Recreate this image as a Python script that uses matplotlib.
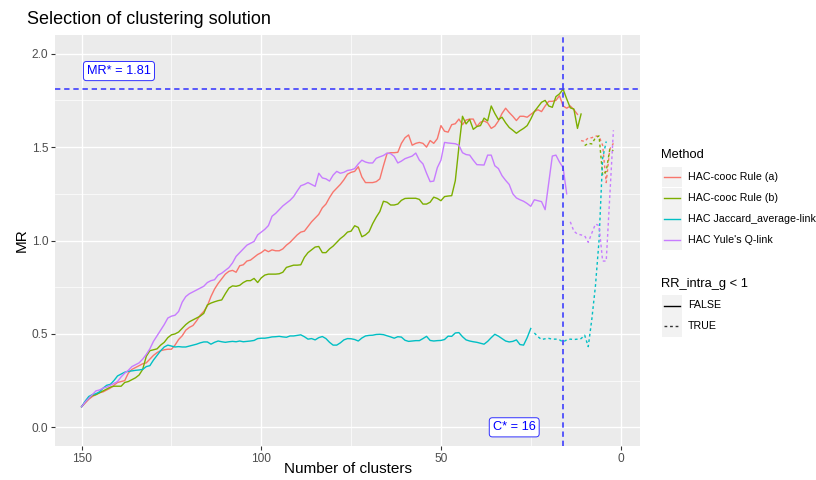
import numpy as np
import matplotlib
matplotlib.use("Agg")
from matplotlib import pyplot as plt
from matplotlib.lines import Line2D
from matplotlib.patches import Rectangle

plt.rcParams["font.family"] = ["Liberation Sans", "DejaVu Sans"]

methods = ["HAC-cooc Rule (a)", "HAC-cooc Rule (b)", "HAC Jaccard_average-link", "HAC Yule's Q-link"]
colors = ["#F8766D", "#7CAE00", "#00BFC4", "#C77CFF"]
rr_labels = ["FALSE", "TRUE"]

# MR per number of clusters, starting at 150 clusters and going down.
# *_false: RR_intra_g < 1 is FALSE, *_true: continues right after it
rule_a_false = [
    0.11, 0.13, 0.15, 0.165, 0.175, 0.185, 0.19, 0.20, 0.21, 0.225,
    0.24, 0.245, 0.25, 0.29, 0.31, 0.32, 0.33, 0.34, 0.345, 0.365,
    0.385, 0.40, 0.41, 0.415, 0.418, 0.418, 0.44, 0.47, 0.49, 0.52,
    0.535, 0.545, 0.57, 0.60, 0.62, 0.65, 0.70, 0.74, 0.77, 0.795,
    0.82, 0.835, 0.84, 0.83, 0.865, 0.87, 0.89, 0.895, 0.91, 0.925,
    0.935, 0.95, 0.94, 0.95, 0.945, 0.945, 0.955, 0.975, 0.99, 1.01,
    1.03, 1.045, 1.05, 1.075, 1.10, 1.12, 1.14, 1.175, 1.195, 1.23,
    1.26, 1.28, 1.30, 1.325, 1.355, 1.365, 1.37, 1.395, 1.34, 1.31,
    1.31, 1.31, 1.315, 1.33, 1.40, 1.465, 1.47, 1.47, 1.472, 1.52,
    1.55, 1.565, 1.51, 1.52, 1.525, 1.52, 1.50, 1.535, 1.52, 1.545,
    1.615, 1.585, 1.58, 1.62, 1.625, 1.65, 1.62, 1.645, 1.65, 1.65,
    1.61, 1.633, 1.64, 1.63, 1.60, 1.612, 1.64, 1.68, 1.708, 1.685,
    1.665, 1.642, 1.665, 1.665, 1.66, 1.675, 1.69, 1.70, 1.69, 1.72,
    1.745, 1.745, 1.75, 1.775, 1.72, 1.708, 1.72, 1.70, 1.675,
]
rule_a_true = [1.535, 1.53, 1.55, 1.55, 1.56, 1.557, 1.51, 1.31, 1.49, 1.52]

rule_b_false = [
    0.11, 0.135, 0.155, 0.17, 0.175, 0.185, 0.195, 0.205, 0.215, 0.22,
    0.22, 0.22, 0.24, 0.245, 0.255, 0.265, 0.28, 0.31, 0.38, 0.41,
    0.415, 0.42, 0.44, 0.455, 0.48, 0.495, 0.50, 0.51, 0.53, 0.55,
    0.565, 0.575, 0.585, 0.595, 0.61, 0.655, 0.665, 0.672, 0.678, 0.682,
    0.715, 0.745, 0.757, 0.755, 0.76, 0.775, 0.785, 0.785, 0.797, 0.775,
    0.80, 0.815, 0.82, 0.82, 0.82, 0.822, 0.83, 0.856, 0.862, 0.868,
    0.868, 0.87, 0.91, 0.935, 0.95, 0.965, 0.968, 0.935, 0.935, 0.955,
    0.97, 0.99, 1.01, 1.025, 1.045, 1.05, 1.079, 1.07, 1.02, 1.03,
    1.047, 1.09, 1.125, 1.155, 1.21, 1.205, 1.19, 1.19, 1.195, 1.215,
    1.225, 1.226, 1.226, 1.226, 1.22, 1.195, 1.195, 1.205, 1.232, 1.225,
    1.213, 1.235, 1.238, 1.24, 1.32, 1.50, 1.665, 1.624, 1.648, 1.595,
    1.61, 1.615, 1.655, 1.64, 1.72, 1.68, 1.647, 1.66, 1.63, 1.605,
    1.59, 1.574, 1.588, 1.60, 1.615, 1.65, 1.69, 1.715, 1.74, 1.75,
    1.72, 1.713, 1.77, 1.785, 1.81, 1.758, 1.71, 1.704, 1.60, 1.677,
]
rule_b_true = [1.508, 1.52, 1.517, 1.55, 1.56, 1.35, 1.37, 1.49, 1.48]

jaccard_false = [
    0.11, 0.14, 0.165, 0.175, 0.18, 0.19, 0.21, 0.225, 0.23, 0.25,
    0.275, 0.285, 0.295, 0.30, 0.302, 0.305, 0.307, 0.31, 0.325, 0.33,
    0.36, 0.385, 0.41, 0.43, 0.44, 0.435, 0.43, 0.432, 0.43, 0.43,
    0.435, 0.44, 0.445, 0.452, 0.457, 0.457, 0.445, 0.455, 0.462, 0.458,
    0.455, 0.458, 0.46, 0.458, 0.462, 0.458, 0.46, 0.462, 0.465, 0.475,
    0.477, 0.477, 0.48, 0.484, 0.485, 0.487, 0.484, 0.482, 0.489, 0.489,
    0.492, 0.495, 0.485, 0.472, 0.475, 0.468, 0.48, 0.486, 0.475, 0.455,
    0.44, 0.44, 0.452, 0.468, 0.475, 0.474, 0.47, 0.462, 0.478, 0.489,
    0.492, 0.493, 0.497, 0.498, 0.496, 0.49, 0.484, 0.477, 0.485, 0.483,
    0.466, 0.46, 0.462, 0.464, 0.464, 0.475, 0.487, 0.465, 0.462, 0.464,
    0.465, 0.47, 0.488, 0.487, 0.505, 0.507, 0.485, 0.468, 0.462, 0.458,
    0.455, 0.45, 0.445, 0.46, 0.48, 0.498, 0.488, 0.475, 0.462, 0.457,
    0.46, 0.468, 0.443, 0.44, 0.48, 0.529,
]
jaccard_true = [0.505, 0.485, 0.47, 0.474, 0.476, 0.472, 0.472, 0.468, 0.457, 0.468,
                0.472, 0.47, 0.472, 0.475, 0.493, 0.432, 0.58, 0.757, 1.0, 1.44, 1.53]

yule_false = [
    0.11, 0.135, 0.155, 0.175, 0.195, 0.20, 0.21, 0.215, 0.225, 0.235,
    0.245, 0.27, 0.29, 0.305, 0.325, 0.335, 0.345, 0.365, 0.39, 0.42,
    0.46, 0.49, 0.52, 0.55, 0.585, 0.595, 0.60, 0.62, 0.67, 0.70,
    0.715, 0.725, 0.735, 0.745, 0.755, 0.775, 0.785, 0.79, 0.815, 0.825,
    0.84, 0.855, 0.88, 0.915, 0.935, 0.955, 0.975, 0.985, 0.995, 1.03,
    1.045, 1.06, 1.08, 1.13, 1.145, 1.165, 1.185, 1.20, 1.215, 1.235,
    1.265, 1.293, 1.30, 1.31, 1.30, 1.29, 1.36, 1.335, 1.33, 1.318,
    1.35, 1.37, 1.36, 1.365, 1.375, 1.378, 1.385, 1.41, 1.43, 1.42,
    1.415, 1.415, 1.44, 1.448, 1.455, 1.468, 1.465, 1.45, 1.415, 1.425,
    1.438, 1.445, 1.452, 1.468, 1.43, 1.41, 1.36, 1.315, 1.318, 1.39,
    1.43, 1.525, 1.522, 1.52, 1.518, 1.51, 1.47, 1.46, 1.457, 1.43,
    1.406, 1.405, 1.404, 1.457, 1.457, 1.40, 1.385, 1.347, 1.322, 1.30,
    1.25, 1.228, 1.218, 1.21, 1.198, 1.183, 1.218, 1.213, 1.208, 1.165,
    1.31, 1.452, 1.457, 1.42, 1.39, 1.25,
]
yule_true = [1.10, 1.05, 1.034, 1.03, 1.025, 0.99, 1.04, 1.088, 1.08, 0.89, 0.89, 1.24, 1.59]

mr_star = 1.81
c_star = 16
max_clusters = 150

series = [
    (rule_a_false, rule_a_true),
    (rule_b_false, rule_b_true),
    (jaccard_false, jaccard_true),
    (yule_false, yule_true),
]

W, H = 816, 480
fig = plt.figure(figsize=(W / 100, H / 100), dpi=100)
ax = fig.add_axes([55 / W, 1 - 446 / H, 585 / W, 411 / H])
ax.set_facecolor("#EBEBEB")
for s in ax.spines.values():
    s.set_visible(False)

LW = 1.0
for (vals_f, vals_t), col in zip(series, colors):
    kf = np.arange(max_clusters, max_clusters - len(vals_f), -1)
    start = max_clusters - len(vals_f)
    kt = np.arange(start, start - len(vals_t), -1)
    ax.plot(kf, vals_f, color=col, lw=LW, solid_joinstyle="round", zorder=3)
    ax.plot(kt, vals_t, color=col, lw=LW, dashes=(2, 2), zorder=3)

ax.axhline(mr_star, color="#3030FF", lw=1.1, dashes=(3.5, 2.5), zorder=4)
ax.axvline(c_star, color="#3030FF", lw=1.1, dashes=(3.5, 2.5), zorder=4)

box = dict(boxstyle="round,pad=0.28,rounding_size=0.25", fc="white", ec="#3030FF", lw=0.7)
ax.text(139.6, mr_star + 0.097, "MR* = %.2f" % mr_star, color="#0000FF", fontsize=9.2,
        ha="center", va="center", bbox=box, zorder=5)
ax.text(c_star + 13.6, 0.0, "C* = %d" % c_star, color="#0000FF", fontsize=9.2,
        ha="center", va="center", bbox=box, zorder=5)

ax.set_xlim(157.4, -5.4)
ax.set_ylim(-0.1, 2.1)
ax.set_xticks([150, 100, 50, 0])
ax.set_xticks([125, 75, 25], minor=True)
ax.set_yticks([0, 0.5, 1.0, 1.5, 2.0])
ax.set_yticklabels(["0.0", "0.5", "1.0", "1.5", "2.0"])
ax.set_yticks([0.25, 0.75, 1.25, 1.75], minor=True)
ax.grid(which="major", color="white", lw=1.0, zorder=0)
ax.grid(which="minor", color="white", lw=0.5, zorder=0)
ax.set_axisbelow(True)
ax.tick_params(which="major", direction="out", length=3, width=0.8, color="#333333",
               labelcolor="#4D4D4D", labelsize=8.6, pad=2)
ax.tick_params(which="minor", length=0)

fig.text(27 / W, 1 - 20 / H, "Selection of clustering solution", fontsize=13, va="center", ha="left")
fig.text(22 / W, 1 - 240 / H, "MR", fontsize=11, rotation=90, va="center", ha="center")
fig.text(347.5 / W, 1 - 469 / H, "Number of clusters", fontsize=11, va="center", ha="center")


def legend_block(title, y_title, y_first, labels, line_styles):
    fig.text(661 / W, 1 - y_title / H, title, fontsize=9.3, va="center", ha="left")
    for i, (lab, (col, dash)) in enumerate(zip(labels, line_styles)):
        yc = y_first + 20.9 * i
        fig.add_artist(Rectangle((662 / W, 1 - (yc + 10.4) / H), 20 / W, 20.8 / H,
                                 transform=fig.transFigure, fc="#F2F2F2", ec="none"))
        ln = Line2D([664 / W, 680 / W], [1 - yc / H, 1 - yc / H], transform=fig.transFigure,
                    color=col, lw=LW)
        if dash:
            ln.set_dashes((2, 2))
        fig.add_artist(ln)
        fig.text(688 / W, 1 - yc / H, lab, fontsize=7.7, va="center", ha="left")


legend_block("Method", 155, 177, methods, [(c, False) for c in colors])
legend_block("RR_intra_g < 1", 284, 305.5, rr_labels, [("black", False), ("#333333", True)])

fig.savefig("out.png", dpi=100)
